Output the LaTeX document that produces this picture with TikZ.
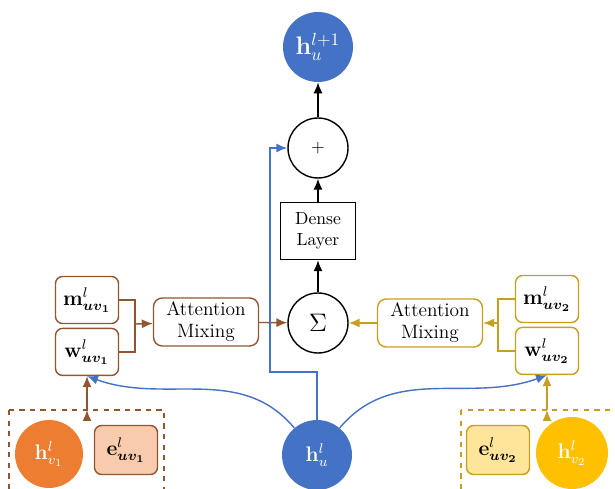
\documentclass[tikz,border=0pt]{standalone}
\usepackage{amsmath}
\usepackage{tikz}
\usetikzlibrary{arrows.meta}
\usetikzlibrary{positioning}
\definecolor{nodeblue}{RGB}{68,114,196}
\definecolor{brownline}{RGB}{145,85,48}
\definecolor{orangefill}{RGB}{237,125,49}
\definecolor{peachfill}{RGB}{248,203,173}
\definecolor{goldline}{RGB}{200,158,30}
\definecolor{goldfill}{RGB}{255,192,0}
\definecolor{creamfill}{RGB}{255,229,153}
\tikzset{
  arr/.style={-{Latex[length=2.2mm,width=1.8mm]}},
  vec/.style={circle, minimum size=1.4cm, inner sep=0pt, text=white, font=\large},
  op/.style={circle, draw, thick, minimum size=1.2cm, inner sep=0pt},
  wbox/.style={draw, rounded corners=4pt, thick, minimum width=1.26cm, minimum height=0.94cm, inner sep=0pt, font=\large},
  mixbox/.style={draw, rounded corners=5pt, thick, minimum width=2.1cm, minimum height=0.96cm, align=center, inner sep=0pt, font=\fontsize{11}{12.5}\selectfont},
  ebox/.style={draw, rounded corners=4pt, thick, minimum width=1.26cm, minimum height=0.98cm, inner sep=0pt, font=\large}
}

\begin{document}
\begin{tikzpicture}[x=0.02cm, y=-0.02cm]
        \useasboundingbox (0,0) rectangle (615,489);
        % centre column
        \node[vec, fill=nodeblue, font=\Large] (hu1) at (318,47) {$\mathbf{h}_{u}^{l+1}$};
        \node[op] (plus) at (318,148) {$+$};
        \node[draw, thick, minimum width=1.5cm, minimum height=1.14cm, align=center, inner sep=0pt] (dense) at (318,231) {Dense\\Layer};
        \node[op, font=\Large] (sum) at (318,323) {$\Sigma$};
        \node[vec, fill=nodeblue] (hu) at (317,455) {$\mathbf{h}_{u}^{l}$};
        % neighbour 1
        \node[wbox, draw=brownline] (m1) at (87,300) {$\mathbf{m}_{\boldsymbol{uv_1}}^{l}$};
        \node[wbox, draw=brownline, below=2pt of m1] (w1) {$\mathbf{w}_{\boldsymbol{uv_1}}^{l}$};
        \node[mixbox, draw=brownline] (mix1) at (206,322) {Attention\\Mixing};
        \node[vec, fill=orangefill, minimum size=1.36cm] (hv1) at (49,454) {$\mathbf{h}_{v_1}^{l}$};
        \node[ebox, draw=brownline, fill=peachfill] (e1) at (126,450) {$\mathbf{e}_{\boldsymbol{uv_1}}^{l}$};
        \coordinate (brk1) at (135,324);
        \coordinate (grp1) at (87,410);
        % neighbour 2
        \node[wbox, draw=goldline] (m2) at (547,299) {$\mathbf{m}_{\boldsymbol{uv_2}}^{l}$};
        \node[wbox, draw=goldline, below=2pt of m2] (w2) {$\mathbf{w}_{\boldsymbol{uv_2}}^{l}$};
        \node[mixbox, draw=goldline] (mix2) at (430,323) {Attention\\Mixing};
        \node[vec, fill=goldfill, minimum size=1.44cm] (hv2) at (572,453) {$\mathbf{h}_{v_2}^{l}$};
        \node[ebox, draw=goldline, fill=creamfill] (e2) at (498,450) {$\mathbf{e}_{\boldsymbol{uv_2}}^{l}$};
        \coordinate (brk2) at (498,323);
        \coordinate (grp2) at (547,410);
        \coordinate (skip) at (270,372);

        \draw[brownline, thick, dashed] (9,410) rectangle (164,500);
        \draw[goldline, thick, dashed] (461,410) rectangle (630,500);

        \draw[thick, arr] (sum) edge (dense)
        (dense) edge (plus)
        (plus) edge (hu1);
        \draw[brownline, thick] (m1.east) -| (brk1) |- (w1.east);
        \draw[brownline, thick, arr] (brk1) edge (mix1)
        (mix1) edge (sum)
        (grp1) edge (w1.south);
        \draw[goldline, thick] (m2.west) -| (brk2) |- (w2.west);
        \draw[goldline, thick, arr] (brk2) edge (mix2)
        (mix2) edge (sum)
        (grp2) edge (w2.south);
        \draw[nodeblue, thick, arr] (hu.north) |- (skip) |- (plus.west);
        \draw[nodeblue, thick, arr] (hu) to[out=130, in=-20] (w1.south);
        \draw[nodeblue, thick, arr] (hu) to[out=50, in=200] (w2.south);
    \end{tikzpicture}
\end{document}
